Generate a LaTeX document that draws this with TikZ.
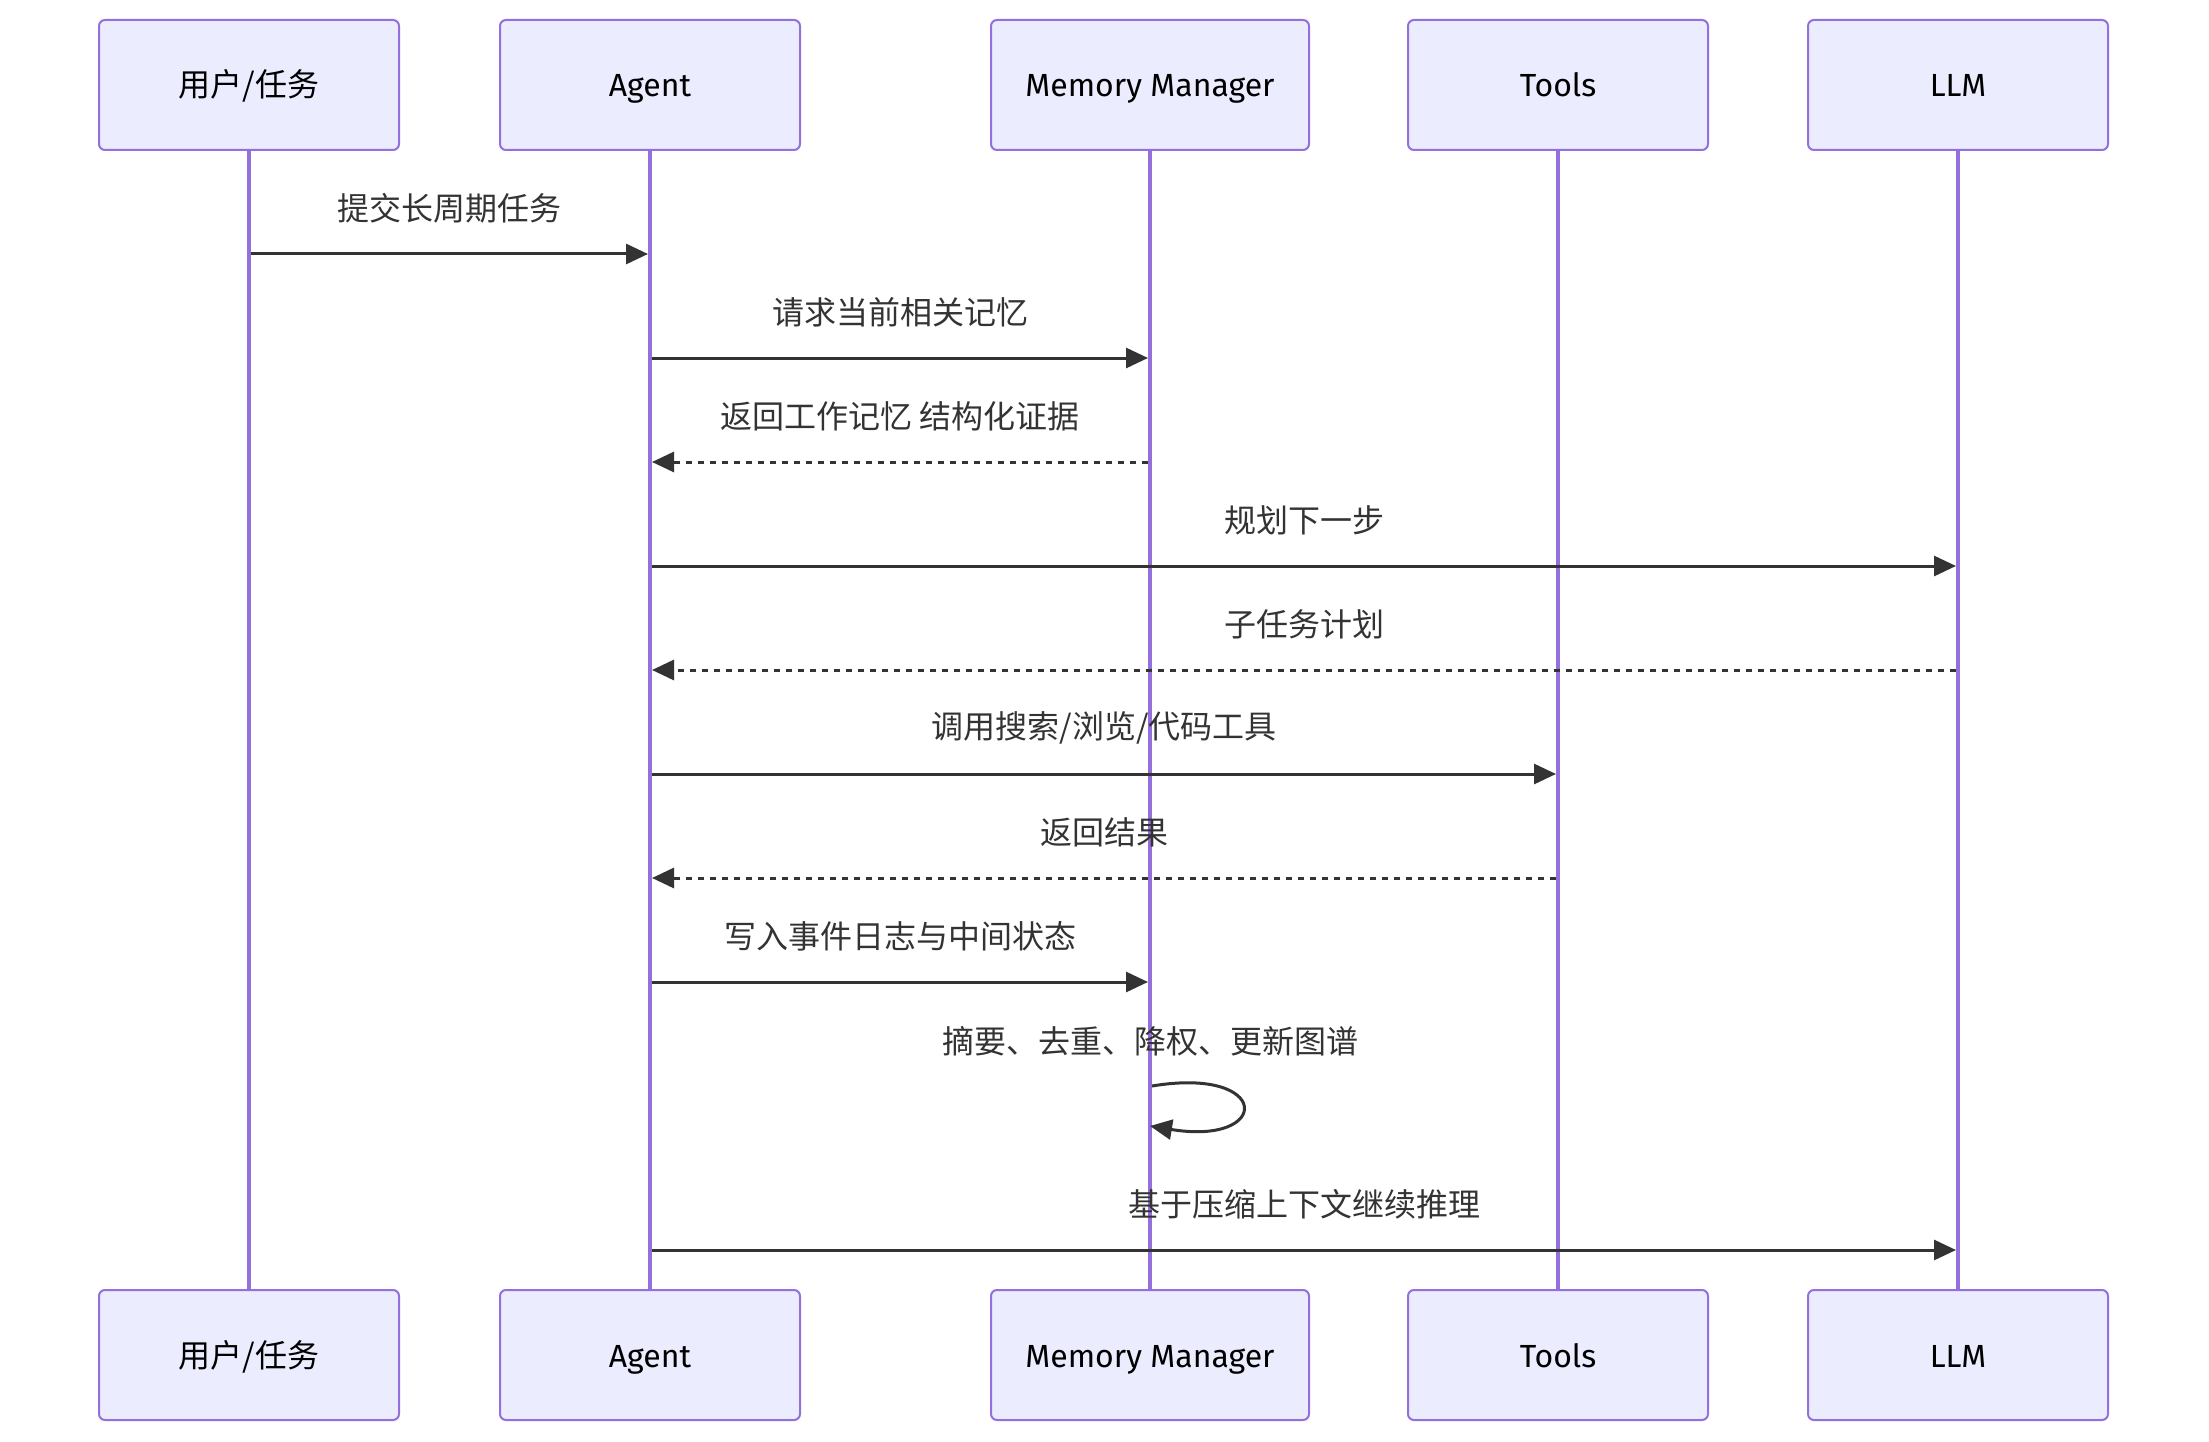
\documentclass[tikz,border=0pt]{standalone}
\usepackage{fontspec}
\setmainfont{Fira Sans}
\newfontfamily\cjk{Noto Sans CJK SC}
\usetikzlibrary{arrows.meta}
\definecolor{actfill}{HTML}{ECECFF}
\definecolor{actline}{HTML}{9370DB}
\definecolor{msg}{HTML}{333333}
\begin{document}
\begin{tikzpicture}[x=1pt,y=-1pt,
  actor/.style={draw=actline, fill=actfill, line width=2pt, rounded corners=6pt,
    minimum width=300pt, minimum height=130pt, inner sep=0pt,
    text height=28pt, text depth=4pt,
    font=\fontsize{32}{38}\selectfont, text=black},
  life/.style={draw=actline, line width=3.6pt},
  msgline/.style={draw=msg, line width=3pt, -{Triangle[length=22pt,width=20pt]}},
  reply/.style={msgline, dash pattern=on 6pt off 6pt},
  lbl/.style={font=\cjk\fontsize{32}{38}\selectfont, text=msg, inner sep=0pt}]
\useasboundingbox (0,0) rectangle (2209,1442);

% actors top
\node[actor] (uT) at (249,85) {\cjk 用户/任务};
\node[actor] (aT) at (650,85) {Agent};
\node[actor, minimum width=318pt] (mT) at (1150,85) {Memory Manager};
\node[actor] (tT) at (1558,85) {Tools};
\node[actor] (lT) at (1958,85) {LLM};
% actors bottom
\node[actor] (uB) at (249,1355) {\cjk 用户/任务};
\node[actor] (aB) at (650,1355) {Agent};
\node[actor, minimum width=318pt] (mB) at (1150,1355) {Memory Manager};
\node[actor] (tB) at (1558,1355) {Tools};
\node[actor] (lB) at (1958,1355) {LLM};

% lifelines
\draw[life] (uT.south) -- (uB.north);
\draw[life] (aT.south) -- (aB.north);
\draw[life] (mT.south) -- (mB.north);
\draw[life] (tT.south) -- (tB.north);
\draw[life] (lT.south) -- (lB.north);

% message end points
\coordinate (u1) at (251,254);  \coordinate (a1) at (648,254);
\coordinate (a2) at (652,358);  \coordinate (m2) at (1148,358);
\coordinate (m3) at (1148,462); \coordinate (a3) at (652,462);
\coordinate (a4) at (652,566);  \coordinate (l4) at (1956,566);
\coordinate (l5) at (1956,670); \coordinate (a5) at (652,670);
\coordinate (a6) at (652,774);  \coordinate (t6) at (1556,774);
\coordinate (t7) at (1556,878); \coordinate (a7) at (652,878);
\coordinate (a8) at (652,982);  \coordinate (m8) at (1148,982);
\coordinate (m9s) at (1152,1086); \coordinate (m9e) at (1150,1126);
\coordinate (a10) at (652,1250); \coordinate (l10) at (1956,1250);

\draw[msgline] (u1) -- (a1);
\node[lbl] (t1) at (449.5,208) {提交长周期任务};
\draw[msgline] (a2) -- (m2);
\node[lbl] (t2) at (900,312) {请求当前相关记忆};
\draw[reply] (m3) -- (a3);
\node[lbl] (t3) at (900,416) {返回工作记忆 结构化证据};
\draw[msgline] (a4) -- (l4);
\node[lbl] (t4) at (1304,520) {规划下一步};
\draw[reply] (l5) -- (a5);
\node[lbl] (t5) at (1304,624) {子任务计划};
\draw[msgline] (a6) -- (t6);
\node[lbl] (t6l) at (1104,728) {调用搜索/浏览/代码工具};
\draw[reply] (t7) -- (a7);
\node[lbl] (t7l) at (1104,832) {返回结果};
\draw[msgline] (a8) -- (m8);
\node[lbl] (t8) at (900,936) {写入事件日志与中间状态};
\draw[msg, line width=3pt, -{Triangle[length=22pt,width=20pt]}]
  (m9s) .. controls (1272,1066) and (1272,1146) .. (m9e);
\node[lbl] (t9) at (1150,1041) {摘要、去重、降权、更新图谱};
\draw[msgline] (a10) -- (l10);
\node[lbl] (t10) at (1304,1204) {基于压缩上下文继续推理};
\end{tikzpicture}
\end{document}
